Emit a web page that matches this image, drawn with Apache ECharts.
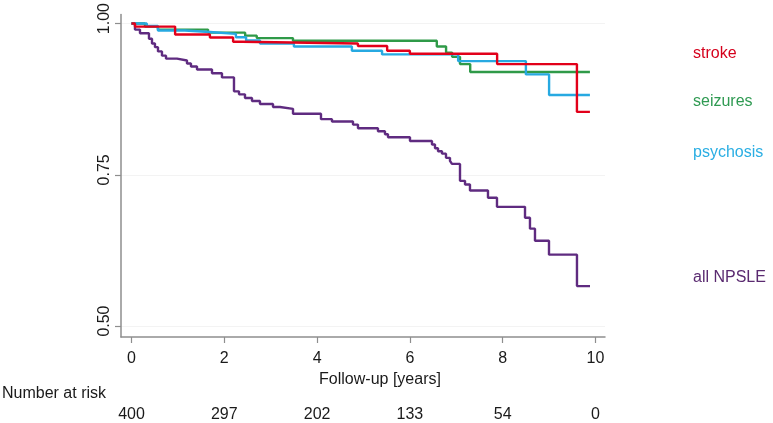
<!DOCTYPE html>
<html>
<head>
<meta charset="utf-8">
<script src="https://cdn.jsdelivr.net/npm/echarts@6/dist/echarts.min.js"></script>
<style>
html,body{margin:0;padding:0;background:#fff;}
#chart{width:773px;height:423px;}
</style>
</head>
<body>
<div id="chart"></div>
<script>
// ---- data ----
var xTicks = [0, 2, 4, 6, 8, 10];
var yTicks = [0.50, 0.75, 1.00];
var numberAtRisk = [400, 297, 202, 133, 54, 0];

var strokeTimes = [0, 0.075, 0.94, 1.69, 2.19, 2.38, 4.88, 5.51, 6.0, 7.88, 9.60, 9.88];
var strokeSurv  = [1.0, 0.995, 0.982, 0.977, 0.970, 0.967, 0.963, 0.955, 0.950, 0.933, 0.854, 0.854];

var seizuresTimes = [0, 0.29, 0.57, 1.65, 2.45, 2.70, 3.48, 6.58, 6.78, 6.91, 7.08, 7.30, 9.88];
var seizuresSurv  = [1.0, 0.995, 0.990, 0.985, 0.980, 0.976, 0.9715, 0.962, 0.952, 0.945, 0.933, 0.920, 0.920];

var psychosisTimes = [0, 0.33, 0.57, 1.15, 1.69, 2.25, 2.47, 2.77, 3.50, 4.75, 5.40, 7.04, 8.50, 9.0, 9.88];
var psychosisSurv  = [1.0, 0.996, 0.9885, 0.986, 0.983, 0.9775, 0.972, 0.967, 0.962, 0.955, 0.949, 0.938, 0.916, 0.882, 0.882];

var npsleTimes = [0, 0.075, 0.183, 0.377, 0.442, 0.506, 0.571, 0.657, 0.744, 0.981, 1.196, 1.282, 1.412, 1.735, 1.950, 2.209, 2.317, 2.446, 2.597, 2.769, 3.050, 3.200, 3.481, 4.084, 4.321, 4.774, 4.881, 5.312, 5.463, 5.528, 6.002, 6.476, 6.541, 6.606, 6.692, 6.778, 6.864, 6.907, 7.080, 7.188, 7.295, 7.683, 7.877, 8.481, 8.588, 8.696, 8.998, 9.601, 9.882];
var npsleSurv  = [1.0, 0.990, 0.984, 0.975, 0.967, 0.961, 0.954, 0.947, 0.942, 0.939, 0.934, 0.929, 0.924, 0.918, 0.911, 0.888, 0.883, 0.877, 0.872, 0.867, 0.862, 0.859, 0.851, 0.842, 0.838, 0.833, 0.827, 0.822, 0.817, 0.812, 0.806, 0.800, 0.794, 0.789, 0.785, 0.778, 0.773, 0.768, 0.740, 0.734, 0.724, 0.712, 0.697, 0.679, 0.661, 0.641, 0.618, 0.566, 0.566];

var seriesNames = ['stroke', 'seizures', 'psychosis', 'all NPSLE'];

// ---- build ----
function zip(t, s) { return t.map(function (v, i) { return [v, s[i]]; }); }

var colors = {
  'stroke': '#e2001a',
  'seizures': '#2f9a48',
  'psychosis': '#27a9e1',
  'all NPSLE': '#5f2b80'
};
var textColors = {
  'stroke': '#d5001c',
  'seizures': '#2f9a52',
  'psychosis': '#2aaee3',
  'all NPSLE': '#5a2a70'
};

var FONT = '"Liberation Sans", Arial, sans-serif';
var axisGray = '#8e8e8e';

function stepSeries(name, data, z) {
  return {
    name: name, type: 'line', step: 'end', data: data, z: z,
    symbol: 'none', animation: false,
    lineStyle: { color: colors[name], width: 2.4 }
  };
}

var chart = echarts.init(document.getElementById('chart'), null, { renderer: 'canvas' });
chart.setOption({
  backgroundColor: '#ffffff',
  animation: false,
  grid: { left: 121, right: 168, top: 13, bottom: 86, containLabel: false },
  xAxis: [{
    type: 'value', min: -0.226, max: 10.205,
    name: 'Follow-up [years]', nameLocation: 'middle', nameGap: 31,
    nameTextStyle: { fontFamily: FONT, fontSize: 16, color: '#1a1a1a', padding: [0, 0, 0, 34] },
    axisLine: { show: true, onZero: false, lineStyle: { color: axisGray, width: 1.5 } },
    axisTick: { show: true, length: 6, customValues: xTicks, lineStyle: { color: axisGray, width: 1.2 } },
    axisLabel: { customValues: xTicks, margin: 14, fontFamily: FONT, fontSize: 16, color: '#1a1a1a' },
    splitLine: { show: false }
  }, {
    type: 'value', min: -0.226, max: 10.205, position: 'bottom', offset: 70,
    axisLine: { show: false }, axisTick: { show: false }, splitLine: { show: false },
    axisLabel: {
      customValues: xTicks, margin: 0, fontFamily: FONT, fontSize: 16, color: '#1a1a1a',
      formatter: function (v) { var i = xTicks.indexOf(Math.round(v)); return i >= 0 ? String(numberAtRisk[i]) : ''; }
    }
  }],
  yAxis: {
    type: 'value', min: 0.4819, max: 1.0148,
    axisLine: { show: true, onZero: false, lineStyle: { color: axisGray, width: 1.5 } },
    axisTick: { show: true, length: 6, customValues: yTicks, lineStyle: { color: axisGray, width: 1.2 } },
    axisLabel: {
      customValues: yTicks, rotate: 90, margin: 8, fontFamily: FONT, fontSize: 16, color: '#1a1a1a',
      padding: [0, 0, 0, 10],
      formatter: function (v) { return v.toFixed(2); }
    },
    splitLine: { show: true, lineStyle: { color: '#f3f3f3', width: 1 } }
  },
  series: [
    stepSeries('all NPSLE', zip(npsleTimes, npsleSurv), 2),
    stepSeries('seizures', zip(seizuresTimes, seizuresSurv), 3),
    stepSeries('psychosis', zip(psychosisTimes, psychosisSurv), 4),
    stepSeries('stroke', zip(strokeTimes, strokeSurv), 5)
  ],
  graphic: [
    { type: 'text', left: 693, top: 46, style: { text: seriesNames[0], fill: textColors['stroke'], font: '16px ' + FONT } },
    { type: 'text', left: 693, top: 94, style: { text: seriesNames[1], fill: textColors['seizures'], font: '16px ' + FONT } },
    { type: 'text', left: 693, top: 145, style: { text: seriesNames[2], fill: textColors['psychosis'], font: '16px ' + FONT } },
    { type: 'text', left: 693, top: 270, style: { text: seriesNames[3], fill: textColors['all NPSLE'], font: '16px ' + FONT } },
    { type: 'text', left: 2, top: 386, style: { text: 'Number at risk', fill: '#1a1a1a', font: '16px ' + FONT } }
  ]
});
</script>
</body>
</html>
